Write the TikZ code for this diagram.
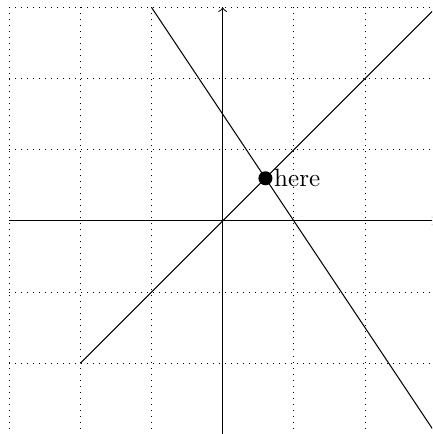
\documentclass[tikz,border=0pt]{standalone}
\usetikzlibrary{intersections}
\begin{document}
\begin{tikzpicture}
\tikzset{gridlines/.style={dotted},dotmark/.style={fill=black}}
\clip (-3.128,-2.992) rectangle (2.940,3.104);
\draw[gridlines] (-3,-3) grid (3,3);
\draw[->] (-3,0) -- (3,0);
\draw[->] (0,-3) -- (0,3);
\coordinate (a1) at (-2,-2);
\coordinate (a2) at (3,3);
\coordinate (b1) at (-1,3);
\coordinate (b2) at (3,-3);
\draw[name path=la] (a1) -- (a2);
\draw[name path=lb] (b1) -- (b2);
\path[name intersections={of=la and lb, by=i}];
\fill[dotmark] (i) circle (2.8pt) node[right] (lbl) {here};
\end{tikzpicture}
\end{document}
